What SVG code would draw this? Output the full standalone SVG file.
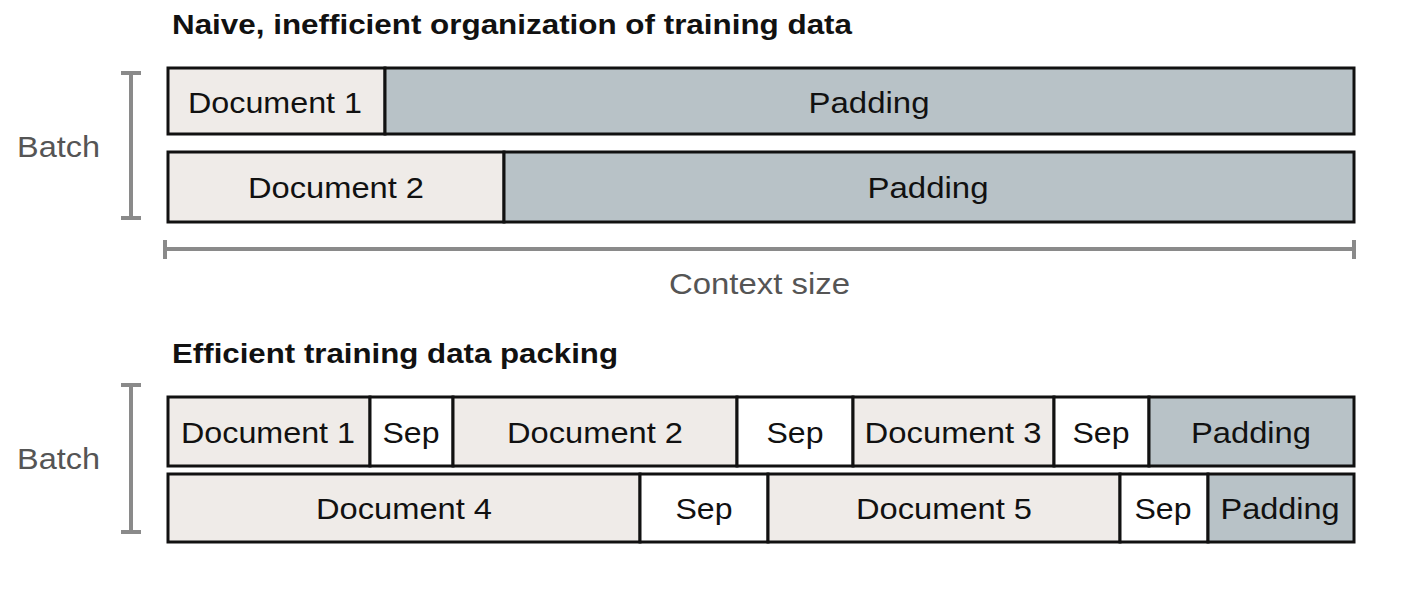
<svg xmlns="http://www.w3.org/2000/svg" width="1407" height="591" viewBox="0 0 1407 591">
<style>
.doc{fill:#efebe8;stroke:#111;stroke-width:3}
.pad{fill:#b8c2c7;stroke:#111;stroke-width:3}
.sep{fill:#ffffff;stroke:#111;stroke-width:3}
.lbl{font-family:"Liberation Sans",Arial,sans-serif;font-size:30px;fill:#111;text-anchor:middle}
.ttl{font-family:"Liberation Sans",Arial,sans-serif;font-size:28px;font-weight:bold;fill:#111}
.gray{font-family:"Liberation Sans",Arial,sans-serif;font-size:30px;fill:#555}
.br{stroke:#8a8a8a;stroke-width:4;fill:none}
</style>
<rect width="1407" height="591" fill="#ffffff"/>
<text class="ttl" x="172" y="34" textLength="680" lengthAdjust="spacingAndGlyphs">Naive, inefficient organization of training data</text>
<text class="ttl" x="172" y="363" textLength="446" lengthAdjust="spacingAndGlyphs">Efficient training data packing</text>
<g id="batch1">
<path class="br" d="M131 73V218M121 73H141M121 218H141"/>
<text class="gray" x="17" y="157" textLength="83" lengthAdjust="spacingAndGlyphs">Batch</text>
</g>
<g id="batch2">
<path class="br" d="M131 385V532M121 385H141M121 532H141"/>
<text class="gray" x="17" y="469" textLength="83" lengthAdjust="spacingAndGlyphs">Batch</text>
</g>
<g id="context">
<path class="br" d="M165 249H1354M165 240V259M1354 240V259"/>
<text class="gray" x="669" y="294" textLength="181" lengthAdjust="spacingAndGlyphs">Context size</text>
</g>
<g id="naive-row1">
<rect class="doc" x="168" y="68" width="217" height="66"/>
<rect class="pad" x="385" y="68" width="969" height="66"/>
<text class="lbl" x="275" y="113" textLength="174" lengthAdjust="spacingAndGlyphs">Document 1</text>
<text class="lbl" x="869" y="113" textLength="121" lengthAdjust="spacingAndGlyphs">Padding</text>
</g>
<g id="naive-row2">
<rect class="doc" x="168" y="152" width="336" height="70"/>
<rect class="pad" x="504" y="152" width="850" height="70"/>
<text class="lbl" x="336" y="198" textLength="176" lengthAdjust="spacingAndGlyphs">Document 2</text>
<text class="lbl" x="928" y="198" textLength="121" lengthAdjust="spacingAndGlyphs">Padding</text>
</g>
<g id="packed-row1">
<rect class="doc" x="168" y="397" width="202" height="69"/>
<rect class="sep" x="370" y="397" width="83" height="69"/>
<rect class="doc" x="453" y="397" width="284" height="69"/>
<rect class="sep" x="737" y="397" width="116" height="69"/>
<rect class="doc" x="853" y="397" width="201" height="69"/>
<rect class="sep" x="1054" y="397" width="95" height="69"/>
<rect class="pad" x="1149" y="397" width="205" height="69"/>
<text class="lbl" x="268" y="443" textLength="174" lengthAdjust="spacingAndGlyphs">Document 1</text>
<text class="lbl" x="411" y="443" textLength="57" lengthAdjust="spacingAndGlyphs">Sep</text>
<text class="lbl" x="595" y="443" textLength="176" lengthAdjust="spacingAndGlyphs">Document 2</text>
<text class="lbl" x="795" y="443" textLength="57" lengthAdjust="spacingAndGlyphs">Sep</text>
<text class="lbl" x="953" y="443" textLength="177" lengthAdjust="spacingAndGlyphs">Document 3</text>
<text class="lbl" x="1101" y="443" textLength="57" lengthAdjust="spacingAndGlyphs">Sep</text>
<text class="lbl" x="1251" y="443" textLength="120" lengthAdjust="spacingAndGlyphs">Padding</text>
</g>
<g id="packed-row2">
<rect class="doc" x="168" y="474" width="472" height="68"/>
<rect class="sep" x="640" y="474" width="128" height="68"/>
<rect class="doc" x="768" y="474" width="352" height="68"/>
<rect class="sep" x="1120" y="474" width="88" height="68"/>
<rect class="pad" x="1208" y="474" width="146" height="68"/>
<text class="lbl" x="404" y="519" textLength="176" lengthAdjust="spacingAndGlyphs">Document 4</text>
<text class="lbl" x="704" y="519" textLength="57" lengthAdjust="spacingAndGlyphs">Sep</text>
<text class="lbl" x="944" y="519" textLength="176" lengthAdjust="spacingAndGlyphs">Document 5</text>
<text class="lbl" x="1163" y="519" textLength="57" lengthAdjust="spacingAndGlyphs">Sep</text>
<text class="lbl" x="1280" y="519" textLength="119" lengthAdjust="spacingAndGlyphs">Padding</text>
</g>
</svg>
